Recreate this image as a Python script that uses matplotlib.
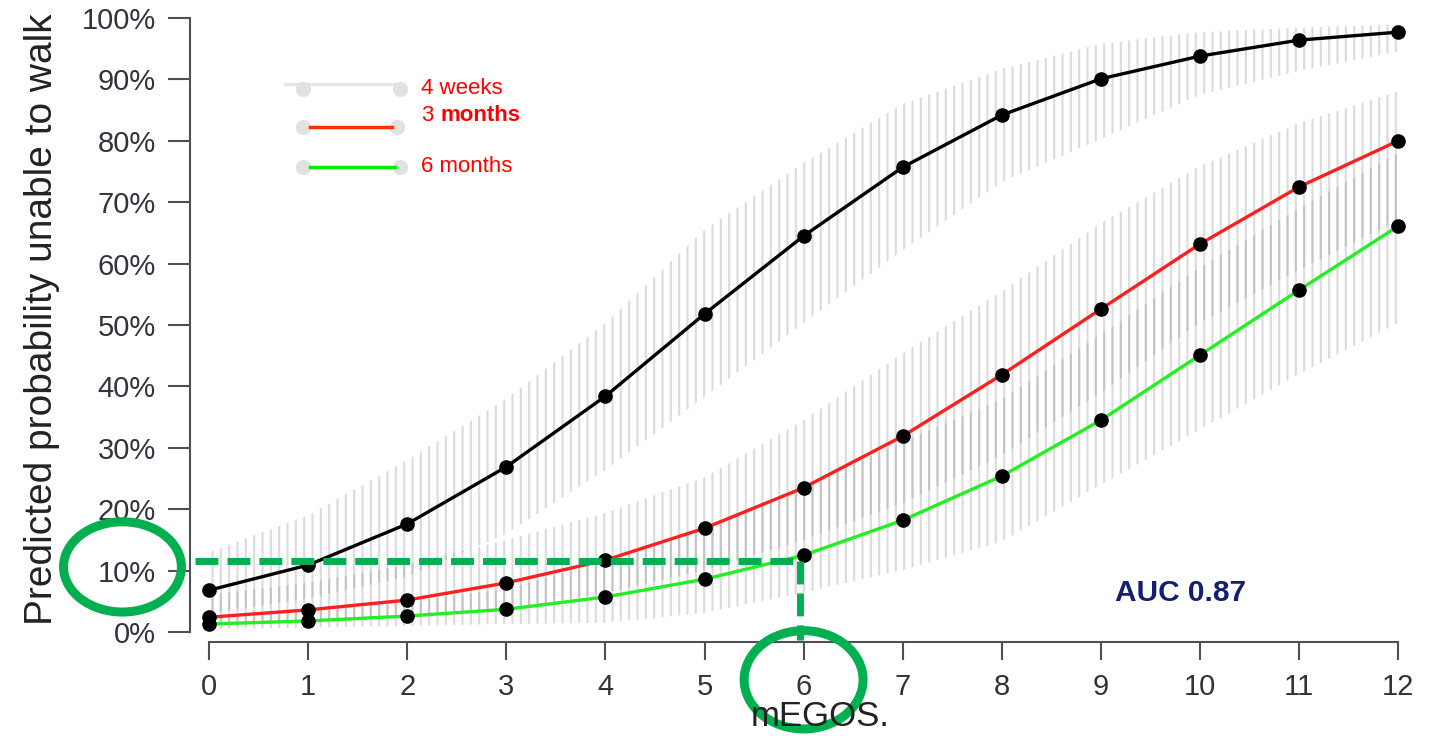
import matplotlib.pyplot as plt
from matplotlib.patches import Ellipse
from matplotlib.transforms import blended_transform_factory

plt.rcParams["font.family"] = ["Liberation Sans", "DejaVu Sans"]
plt.rcParams["hatch.linewidth"] = 1.6

# mEGOS score on the x axis
megos = list(range(13))

# predicted probability (%) unable to walk, with confidence band
weeks4 = [6.8, 10.9, 17.6, 26.9, 38.4, 51.8, 64.5, 75.7, 84.2, 90.1, 93.8, 96.4, 97.7]
weeks4_lo = [3.0, 5.5, 9.0, 16.0, 26.4, 38.3, 50.3, 62.2, 73.3, 80.3, 87.5, 91.4, 94.5]
weeks4_hi = [13.0, 19.0, 28.0, 38.0, 50.3, 65.5, 76.4, 86.0, 91.7, 95.8, 97.7, 98.4, 99.0]

months3 = [2.4, 3.6, 5.2, 8.0, 11.7, 16.9, 23.5, 31.9, 41.9, 52.6, 63.2, 72.5, 80.0]
months3_lo = [1.0, 1.5, 2.5, 3.5, 6.4, 10.1, 15.0, 21.0, 28.8, 39.0, 50.4, 59.0, 67.0]
months3_hi = [6.0, 8.0, 11.0, 15.0, 19.4, 25.2, 34.5, 45.4, 55.5, 66.6, 75.9, 82.9, 88.1]

months6 = [1.3, 1.8, 2.6, 3.7, 5.7, 8.6, 12.5, 18.2, 25.4, 34.5, 45.1, 55.7, 66.1]
months6_lo = [0.5, 0.7, 1.0, 1.3, 1.5, 3.1, 6.4, 10.1, 14.7, 24.0, 33.0, 42.0, 50.3]
months6_hi = [2.5, 3.5, 5.0, 7.0, 11.7, 16.6, 23.6, 31.0, 37.9, 48.5, 59.4, 69.0, 78.0]

y_ticks = list(range(0, 101, 10))
y_labels = [f"{v}%" for v in y_ticks]

# highlighted example: mEGOS 6 -> ~12% at 6 months
cut_x = 6
cut_y = 11.6

fig = plt.figure(figsize=(14.37, 7.36), dpi=100)
ax = fig.add_axes([190 / 1437, 94 / 736, 1228 / 1437, 630 / 736])
ax.set_xlim(-0.192, 12.2)
ax.set_ylim(-1.63, 100.98)

band = (0.5, 0.5, 0.5, 0.27)
for lo, hi in [(weeks4_lo, weeks4_hi), (months3_lo, months3_hi), (months6_lo, months6_hi)]:
    ax.fill_between(megos, lo, hi, facecolor="none", edgecolor=band,
                    hatch="||", linewidth=0, zorder=1)

for y, c in [(weeks4, "black"), (months3, "#ff1f1f"), (months6, "#22f022")]:
    ax.plot(megos, y, color=c, lw=2.4, marker="o", ms=9.5,
            mfc="black", mec="black", zorder=3)

# axes in R style
for s in ["top", "right"]:
    ax.spines[s].set_visible(False)
ax.spines["left"].set_bounds(0, 100)
ax.spines["bottom"].set_bounds(0, 12)
for s in ["left", "bottom"]:
    ax.spines[s].set_color("#505050")
    ax.spines[s].set_linewidth(1.5)
ax.set_xticks(megos)
ax.set_yticks(y_ticks)
ax.set_yticklabels(y_labels)
ax.tick_params(axis="y", length=15.5, width=1.5, color="#505050", pad=9,
               labelsize=21, labelcolor="#333340")
ax.tick_params(axis="x", length=13, width=1.5, color="#505050", pad=9,
               labelsize=21, labelcolor="#333333")

fig.text(42 / 1437, 1 - 625 / 736, "Predicted probability unable to walk",
         rotation=90, rotation_mode="anchor", ha="left", va="center",
         fontsize=28, color="#222222")
fig.text(820 / 1437, 1 - 726 / 736, "mEGOS.", ha="center", va="baseline",
         fontsize=25, color="#222222")

ax.text(9.8, 6.3, "AUC 0.87", ha="center", va="center", fontsize=21.5,
        fontweight="bold", color="#14206e")

# legend drawn by hand
leg_gray = "#e2e2e2"
ax.plot([0.77, 1.93], [89.2, 89.2], color="#e6e6e6", lw=2.5, clip_on=False)
ax.plot([0.95, 1.93], [88.5, 88.5], ls="none", marker="o", ms=11, mfc=leg_gray,
        mec="none", clip_on=False)
ax.plot([0.95, 1.9], [82.3, 82.3], ls="none", marker="o", ms=11, mfc=leg_gray,
        mec="none", clip_on=False)
ax.plot([1.02, 1.85], [82.3, 82.3], color="#ff3300", lw=2.5)
ax.plot([0.95, 1.93], [75.8, 75.8], ls="none", marker="o", ms=11, mfc=leg_gray,
        mec="none", clip_on=False)
ax.plot([1.02, 1.88], [75.8, 75.8], color="#00ee00", lw=2.5)
ax.text(2.14, 88.6, "4 weeks", color="red", fontsize=16, va="center")
t3 = ax.text(2.14, 84.2, "3", color="red", fontsize=16, va="center")
ax.annotate("months", xy=(1, 0), xycoords=t3, xytext=(5, 0),
            textcoords="offset points", color="red", fontsize=16,
            fontweight="bold", va="bottom")
ax.text(2.14, 75.8, "6 months", color="red", fontsize=16, va="center")

# green dashed guide and circles
green = "#00b050"
ax.plot([-0.14, cut_x - 0.04], [cut_y, cut_y], color=green, lw=5,
        ls=(0, (3.3, 1.3)), zorder=4, clip_on=False)
ax.plot([cut_x - 0.04, cut_x - 0.04], [cut_y, -1.3], color=green, lw=5,
        ls=(0, (3.3, 1.3)), zorder=4, clip_on=False)

tr1 = blended_transform_factory(ax.transAxes, ax.transData)
ax.add_patch(Ellipse((-0.055, 10.6), 0.096, 14.7, transform=tr1, fill=False,
                     edgecolor=green, lw=6.5, clip_on=False, zorder=5))
tr2 = blended_transform_factory(ax.transData, ax.transAxes)
ax.add_patch(Ellipse((cut_x, -0.06), 1.2, 0.156, transform=tr2, fill=False,
                     edgecolor=green, lw=6.5, clip_on=False, zorder=5))

fig.savefig("out.png", dpi=100)
